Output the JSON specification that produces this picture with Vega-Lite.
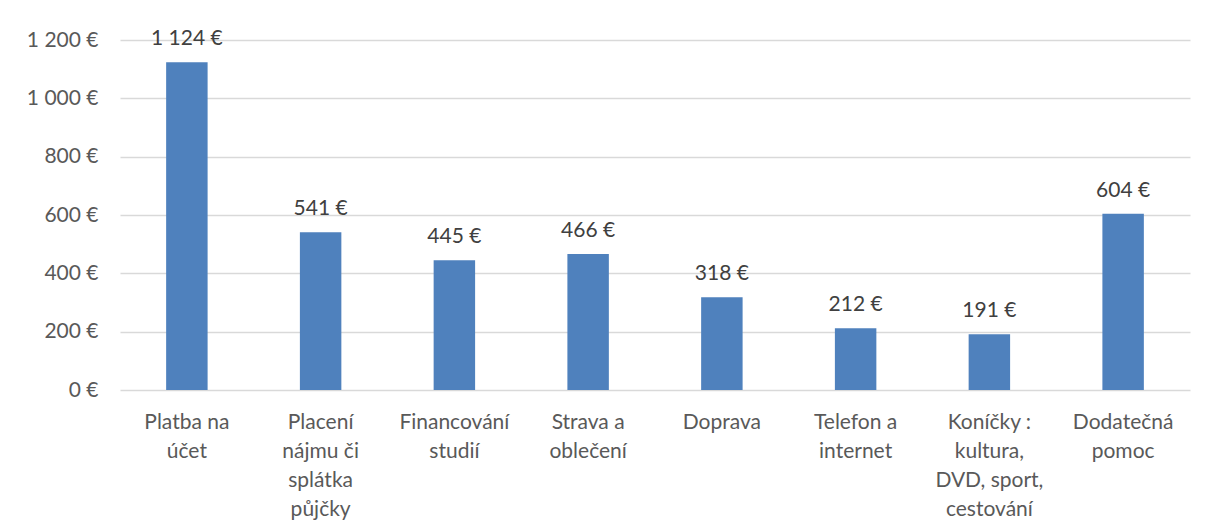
{
  "$schema": "https://vega.github.io/schema/vega-lite/v6.json",
  "width": 1070,
  "height": 350,
  "autosize": "none",
  "padding": {"left": 120, "top": 40, "right": 17, "bottom": 142},
  "background": "white",
  "config": {
    "locale": {"number": {"decimal": ",", "thousands": " ", "grouping": [3], "currency": ["", " €"]}},
    "view": {"stroke": null},
    "font": "Lato"
  },
  "data": {
    "values": [
      {"kategorie": "Platba na\núčet", "castka": 1124},
      {"kategorie": "Placení\nnájmu či\nsplátka\npůjčky", "castka": 541},
      {"kategorie": "Financování\nstudií", "castka": 445},
      {"kategorie": "Strava a\noblečení", "castka": 466},
      {"kategorie": "Doprava", "castka": 318},
      {"kategorie": "Telefon a\ninternet", "castka": 212},
      {"kategorie": "Koníčky :\nkultura,\nDVD, sport,\ncestování", "castka": 191},
      {"kategorie": "Dodatečná\npomoc", "castka": 604}
    ]
  },
  "encoding": {
    "x": {
      "field": "kategorie",
      "type": "nominal",
      "sort": null,
      "scale": {"paddingInner": 0.69, "paddingOuter": 0.345},
      "axis": {
        "title": null,
        "labelAngle": 0,
        "labelExpr": "split(datum.label, '\\n')",
        "labelFont": "Lato",
        "labelFontSize": 21,
        "labelColor": "#595959",
        "labelLineHeight": 29,
        "labelBaseline": "top",
        "labelPadding": 21,
        "ticks": false,
        "domain": false,
        "labelLimit": 300
      }
    },
    "y": {
      "field": "castka",
      "type": "quantitative",
      "scale": {"domain": [0, 1200], "nice": false},
      "axis": {
        "title": null,
        "values": [0, 200, 400, 600, 800, 1000, 1200],
        "format": "$,.0f",
        "labelFont": "Lato",
        "labelFontSize": 21,
        "labelColor": "#595959",
        "labelPadding": 22,
        "ticks": false,
        "domain": false,
        "gridColor": "#D9D9D9",
        "gridWidth": 1.3
      }
    }
  },
  "layer": [
    {"mark": {"type": "bar", "color": "#4F81BD"}},
    {
      "mark": {"type": "text", "fontSize": 21, "font": "Lato", "color": "#404040", "baseline": "alphabetic", "dy": -17},
      "encoding": {"text": {"field": "castka", "type": "quantitative", "format": "$,.0f"}}
    }
  ]
}
